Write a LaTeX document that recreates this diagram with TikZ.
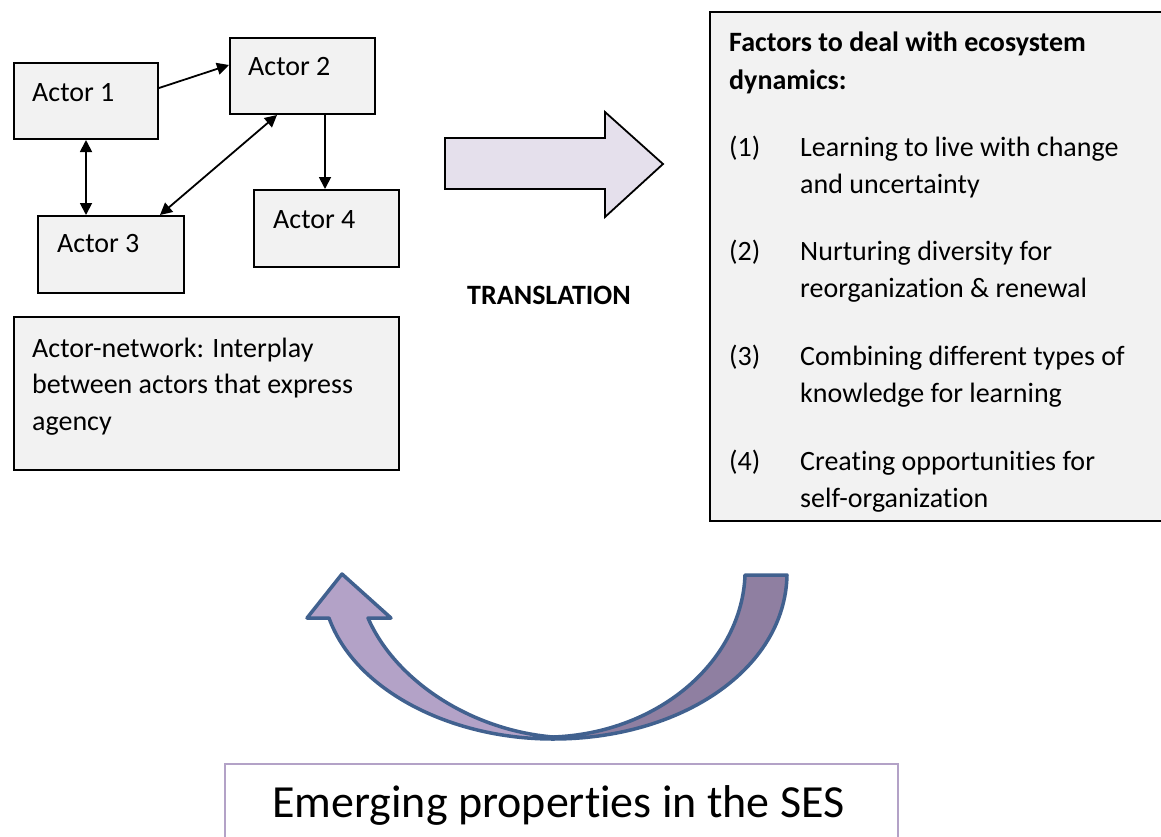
\documentclass[tikz,border=0pt]{standalone}
\usepackage{fontspec}
\setmainfont{Carlito}[RawFeature={-liga;-clig;-dlig;-calt}]
\usetikzlibrary{arrows.meta,calc}
\definecolor{boxfill}{HTML}{F2F2F2}
\definecolor{arrowfill}{HTML}{E5E0EC}
\definecolor{curveL}{HTML}{B3A2C7}
\definecolor{curveR}{HTML}{8F7FA1}
\definecolor{curveline}{HTML}{41618F}
\definecolor{sesline}{HTML}{B3A2C7}
\begin{document}
\begin{tikzpicture}[x=1pt,y=-1pt,
  box/.style={draw=black, line width=2pt, fill=boxfill, anchor=north west, inner sep=0pt},
  txt/.style={anchor=base west, inner sep=0pt, align=left, font=\fontsize{28}{36}\selectfont},
  con/.style={line width=1.8pt, -{Triangle[length=12pt,width=12pt]}},
  bicon/.style={line width=1.8pt, {Triangle[length=12pt,width=12pt]}-{Triangle[length=12pt,width=12pt]}}]
\useasboundingbox (0,0) rectangle (1161,836);

% actor boxes
\node[box, minimum width=144pt, minimum height=76pt] (a1) at (13,62) {};
\node[box, minimum width=145pt, minimum height=76pt] (a2) at (229,37) {};
\node[box, minimum width=146pt, minimum height=77pt] (a3) at (37,215) {};
\node[box, minimum width=145pt, minimum height=77pt] (a4) at (253,189) {};
\node[txt] (a1t) at (32,101) {Actor 1};
\node[txt] (a2t) at (248,75) {Actor 2};
\node[txt] (a3t) at (57,252) {Actor 3};
\node[txt] (a4t) at (273,228) {Actor 4};

% connectors
\draw[con] ($(a1.north east)+(0,26)$) -- ($(a2.north west)+(0,28)$);
\draw[bicon] ($(a1.south west)+(73,0)$) -- ($(a3.north west)+(49,0)$);
\draw[bicon] ($(a2.south west)+(48,0)$) -- ($(a3.north west)+(123,0)$);
\draw[con] ($(a2.south west)+(96,0)$) -- ($(a4.north west)+(72,0)$);

% actor-network box
\node[box, minimum width=385pt, minimum height=153pt] (an) at (13,316) {};
\node[txt, font=\fontsize{28}{36.5}\selectfont] (ant) at (32,430) {Actor-network: Interplay\\between actors that express\\agency};

% translation arrow
\draw[line width=1.8pt, fill=arrowfill, line join=miter]
  (445,138) -- (605,138) -- (605,112) -- (663,164) -- (605,217) -- (605,189) -- (445,189) -- cycle;
\node[txt, font=\bfseries\fontsize{28}{34}\selectfont] (tr) at (467,304) {TRANSLATION};

% factors box
\node[box, minimum width=460pt, minimum height=509pt] (fb) at (709,11) {};
\node[txt, font=\bfseries\fontsize{28}{38}\selectfont] (fh) at (729,89) {Factors to deal with ecosystem\\dynamics:};
\node[txt] (n1) at (729,156) {(1)};
\node[txt, font=\fontsize{28}{37}\selectfont] (f1) at (800,193) {Learning to live with change\\and uncertainty};
\node[txt] (n2) at (729,260) {(2)};
\node[txt, font=\fontsize{28}{37}\selectfont] (f2) at (800,297) {Nurturing diversity for\\reorganization \& renewal};
\node[txt] (n3) at (729,365) {(3)};
\node[txt, font=\fontsize{28}{37}\selectfont] (f3) at (800,402) {Combining different types of\\knowledge for learning};
\node[txt] (n4) at (729,470) {(4)};
\node[txt, font=\fontsize{28}{37}\selectfont] (f4) at (800,507) {Creating opportunities for\\self-organization};

% curved arrow
\draw[line width=3.5pt, draw=curveline, fill=curveR, line join=round]
  (553,739) .. controls (680,739) and (785,670) .. (787,575)
  -- (745,575) .. controls (742,660) and (660,733) .. (553,737) -- cycle;
\draw[line width=3.5pt, draw=curveline, fill=curveL, line join=round]
  (553,739) .. controls (450,739) and (355,690) .. (329,618)
  -- (307,618) -- (342,574) -- (391,618) -- (368,618)
  .. controls (395,680) and (470,730) .. (553,737) -- cycle;

% SES box
\node[draw=sesline, line width=2pt, fill=white, anchor=north west, inner sep=0pt,
  minimum width=673pt, minimum height=120pt] (ses) at (224,763) {};
\node[txt, font=\fontsize{46}{50}\selectfont] (sest) at (272,817) {Emerging properties in the SES};
\end{tikzpicture}
\end{document}
